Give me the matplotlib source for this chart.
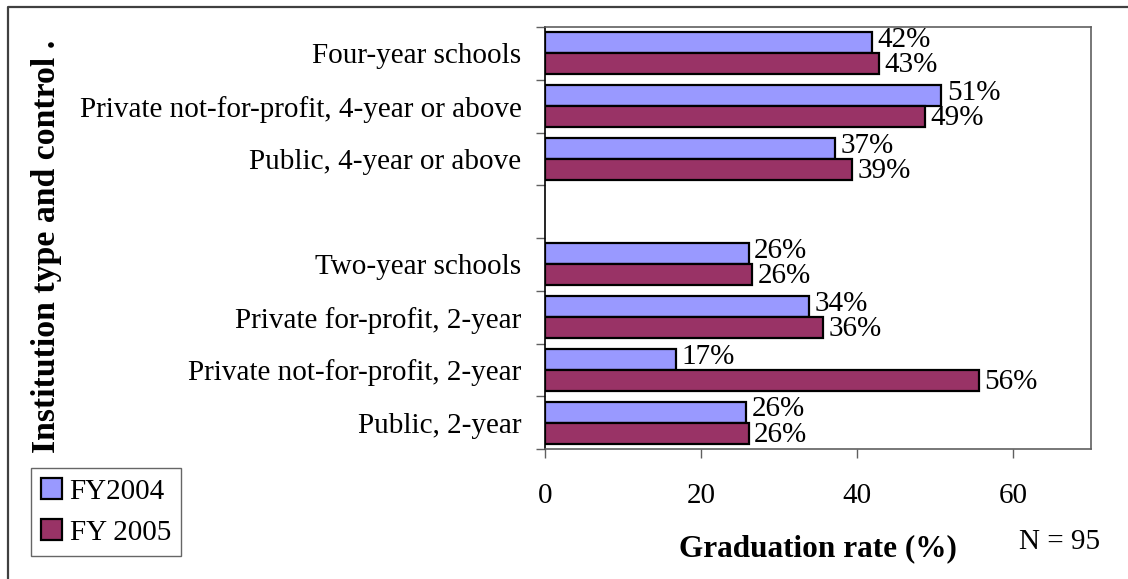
"""
Graduation rate by institution type and control, FY2004 vs FY 2005.
"""

import numpy as np
import matplotlib

matplotlib.use("Agg")
import matplotlib.pyplot as plt
from matplotlib.lines import Line2D

categories = [
    "Four-year schools",
    "Private not-for-profit, 4-year or above",
    "Public, 4-year or above",
    "Two-year schools",
    "Private for-profit, 2-year",
    "Private not-for-profit, 2-year",
    "Public, 2-year",
]
fy2004 = [41.9, 50.8, 37.2, 26.1, 33.8, 16.8, 25.8]
fy2005 = [42.8, 48.7, 39.4, 26.5, 35.6, 55.6, 26.1]
series_names = ["FY2004", "FY 2005"]
x_ticks = [0, 20, 40, 60]

BLUE = "#9999FF"
MAROON = "#993366"
FONT = 21


def main():
    """Draw the chart and save it"""
    plt.rcParams["font.family"] = ["Liberation Serif", "DejaVu Serif"]

    fig = plt.figure(figsize=(11.28, 5.79), dpi=100)
    ax = fig.add_axes([545 / 1128, 1 - 449 / 579, 546 / 1128, 422 / 579])

    # an empty slot separates the four-year and two-year groups
    idx = np.arange(len(categories))
    slots = idx + (idx >= 3)
    n_slots = len(categories) + 1

    h = 0.4
    top = ax.barh(slots + 0.3, fy2004, height=h, color=BLUE,
                  edgecolor="black", linewidth=1.6, label=series_names[0])
    bot = ax.barh(slots + 0.7, fy2005, height=h, color=MAROON,
                  edgecolor="black", linewidth=1.6, label=series_names[1])

    for bars, vals, dy in ((top, fy2004, 2), (bot, fy2005, -1)):
        for rect, v in zip(bars, vals):
            ax.annotate(f"{v:.0f}%",
                        (v, rect.get_y() + rect.get_height() / 2),
                        xytext=(4, dy), textcoords="offset points",
                        ha="left", va="center", fontsize=FONT)

    ax.set_xlim(0, 70)
    ax.set_ylim(n_slots, 0)

    ax.set_xticks(x_ticks)
    ax.tick_params(axis="x", direction="out", length=6.5, width=1,
                   color="#606060", pad=18, labelsize=FONT)

    # ticks between categories, labels in the middle of each slot
    ax.set_yticks(np.arange(n_slots + 1))
    ax.set_yticklabels([])
    ax.set_yticks(slots + 0.5, minor=True)
    ax.set_yticklabels(categories, minor=True)
    ax.tick_params(axis="y", which="major", direction="out", length=6.5,
                   width=1, color="#606060")
    ax.tick_params(axis="y", which="minor", length=0, pad=17,
                   labelsize=FONT)

    for side in ("top", "right", "bottom"):
        ax.spines[side].set_color("#606060")
        ax.spines[side].set_linewidth(1.2)
    ax.spines["left"].set_color("black")
    ax.spines["left"].set_linewidth(1.2)

    ax.set_xlabel("Graduation rate (%)", fontsize=22.5, fontweight="bold",
                  labelpad=18)
    fig.text(47 / 1128, 1 - 246 / 579, "Institution type and control .",
             rotation=90, ha="center", va="center", fontsize=24.3,
             fontweight="bold")
    fig.text(1060 / 1128, 1 - 542 / 579, "N = 95", ha="center",
             va="center", fontsize=FONT)

    leg = fig.legend(handles=[top, bot], labels=series_names,
                     loc="upper left",
                     bbox_to_anchor=(31 / 1128, 1 - 468 / 579),
                     bbox_transform=fig.transFigure, borderaxespad=0,
                     fontsize=FONT, frameon=True, fancybox=False,
                     handlelength=0.72, handleheight=0.7, handletextpad=0.25,
                     borderpad=0.35, labelspacing=0.5)
    leg.get_frame().set_edgecolor("#404040")
    leg.get_frame().set_linewidth(1)

    # outer chart border
    fig.add_artist(Line2D([8 / 1128, 8 / 1128, 1], [0, 1 - 7 / 579, 1 - 7 / 579],
                          transform=fig.transFigure, color="#404040",
                          linewidth=1.6))

    fig.savefig("out.png", dpi=100)


if __name__ == "__main__":
    main()
